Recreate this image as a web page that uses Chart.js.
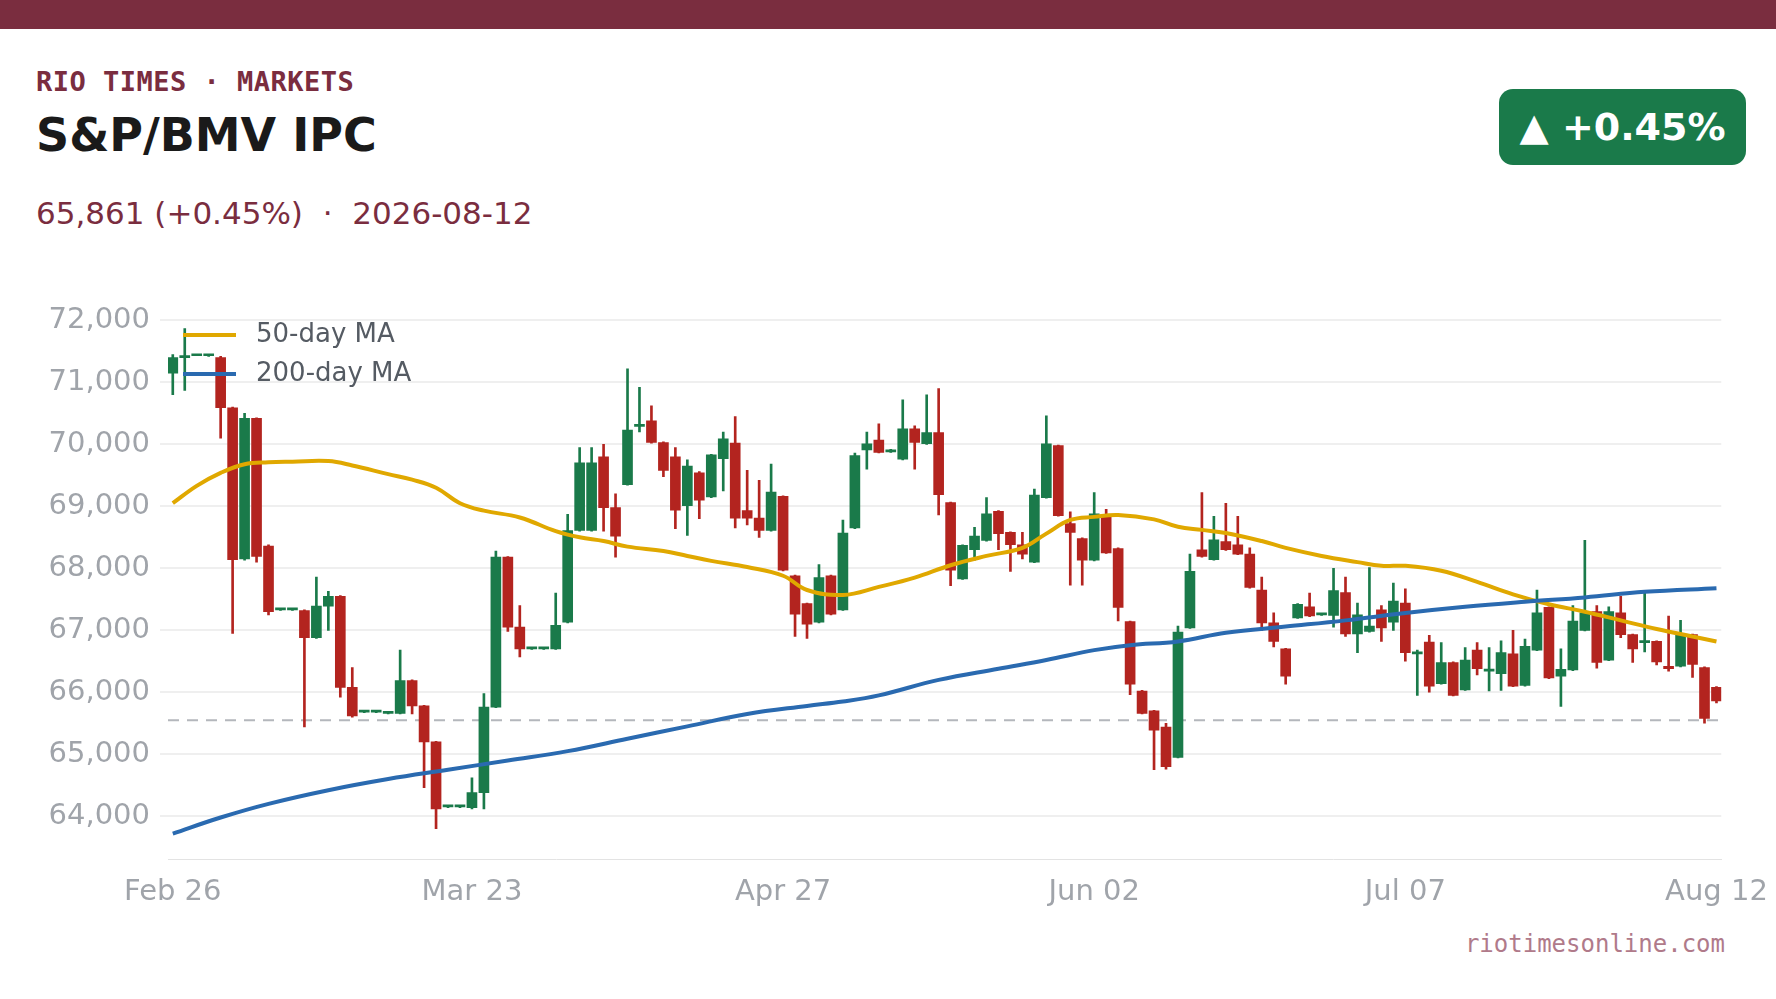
<!DOCTYPE html>
<html><head><meta charset="utf-8">
<script src="https://cdn.jsdelivr.net/npm/chart.js@4.4.1/dist/chart.umd.min.js"></script>
<style>
body{margin:0;width:1776px;height:999px;background:#fff;position:relative;overflow:hidden;font-family:"DejaVu Sans",sans-serif}
#bar{position:absolute;left:0;top:0;width:1776px;height:29px;background:#7a2d3f}
#kicker{position:absolute;left:36px;top:66px;font:bold 27px "DejaVu Sans Mono",monospace;color:#7a2d3f;letter-spacing:0.5px}
#title{position:absolute;left:36px;top:108px;font:bold 46px "DejaVu Sans",sans-serif;color:#1a1a1a}
#sub{position:absolute;left:36px;top:195px;font:31px "DejaVu Sans",sans-serif;color:#7a2d3f;white-space:pre}
#badge{position:absolute;left:1499px;top:89px;width:247px;height:76px;background:#1a7a4a;border-radius:14px;color:#fff;font:bold 38px "DejaVu Sans",sans-serif;display:flex;align-items:center;justify-content:center}
#foot{position:absolute;right:51px;top:930px;font:24px "DejaVu Sans Mono",monospace;color:#b07a8a}
#wrap{position:absolute;left:0;top:293px;width:1776px;height:627px}
.lg{position:absolute;left:183px;font:26px "DejaVu Sans",sans-serif;color:#555b63}
.lg span{display:inline-block;width:53px;height:4px;vertical-align:middle;margin-right:20px}
</style></head><body>
<div id="bar"></div>
<div id="kicker">RIO TIMES · MARKETS</div>
<div id="title">S&amp;P/BMV IPC</div>
<div id="sub">65,861 (+0.45%)  ·  2026-08-12</div>
<div id="badge">▲ +0.45%</div>
<div id="wrap"><canvas id="c" width="1776" height="627"></canvas></div>
<div class="lg" style="top:318px"><span style="background:#e0a800"></span>50-day MA</div>
<div class="lg" style="top:357px"><span style="background:#2a6ab0"></span>200-day MA</div>
<div id="foot">riotimesonline.com</div>
<script>
const tickIdx=[0,25,51,77,103,129];
const tickText=['Feb 26','Mar 23','Apr 27','Jun 02','Jul 07','Aug 12'];
const yTicks=[64000,65000,66000,67000,68000,69000,70000,71000,72000];
const opens=[71150,71400,71430,71430,71400,70590,68150,70420,68360,67330,67330,67320,66880,67390,67550,66080,65680,65680,65660,65660,66190,65780,65200,64150,64150,64140,64380,65760,68180,67050,66700,66700,66700,67130,68610,68610,69800,68980,69350,70290,70380,70030,69800,69010,69540,69150,69770,70020,68930,68810,68610,69160,67880,67430,67130,67880,67330,68650,69910,70070,69880,69760,70250,70010,70190,69060,67830,68300,68450,68920,68580,68380,68100,69140,69980,68720,68480,68130,68830,68320,67140,66020,65700,65440,64950,67040,68300,68140,68430,68380,68230,67650,67120,66700,67200,67380,67250,67240,67610,66940,66980,67330,67130,67440,66620,66810,66140,66480,66040,66680,66340,66300,66620,66110,66680,67370,66260,66360,67000,67300,66520,67280,66930,66800,66820,66420,66420,66930,66400,66080];
const closes=[71400,71400,71440,71430,70590,68140,70420,68190,67300,67330,67330,66880,67390,67550,66080,65620,65680,65680,65660,66190,65780,65200,64120,64150,64150,64380,65760,68180,67050,66700,66700,66700,67080,68610,69700,69700,68980,68520,70230,70290,70030,69580,68940,69650,69100,69830,70090,68810,68810,68610,69230,67970,67260,67100,67850,67260,68570,69820,70010,69870,69910,70250,70030,70190,69190,67970,68370,68520,68880,68560,68380,68230,69180,70010,68850,68580,68130,68880,68250,67370,66130,65660,65390,64800,66970,67950,68190,68460,68300,68230,67690,67120,66820,66260,67420,67230,67250,67640,66940,67250,67070,67040,67470,66640,66620,66100,66480,65950,66520,66380,66340,66640,66100,66740,67280,66230,66370,67150,67280,66480,67300,66930,66700,66800,66490,66380,66920,66450,65580,65860];
const highs=[71450,71870,71440,71440,71420,70600,70500,70430,68380,67340,67340,67330,67860,67630,67560,66400,65690,65690,65670,66680,66200,65790,65210,64160,64160,64620,65980,68280,68190,67400,66710,66710,67600,68870,69950,69950,70000,69200,71220,70920,70620,70040,69950,69750,69560,69840,70200,70450,69580,69420,69680,69170,67890,67440,68060,67890,68780,69860,70200,70330,69920,70720,70300,70800,70900,69070,68380,68660,69140,68930,68590,68580,69280,70460,69990,68910,68490,69220,68950,68330,67150,66030,65710,65500,67070,68230,69220,68840,69050,68840,68330,67860,67280,66710,67430,67600,67260,68000,67860,67440,68010,67400,67760,67670,66680,66920,66800,66490,66720,66800,66720,66830,67000,66860,67650,67380,66700,67400,68450,67400,67380,67550,66940,67620,66830,67230,67160,66940,66410,66090];
const lows=[70800,70870,71430,71420,70100,66950,68130,68100,67250,67320,67320,65440,66870,67000,65920,65600,65670,65670,65650,65650,65650,64460,63800,64140,64140,64120,64120,65750,66980,66570,66690,66690,66690,67120,68600,68600,68600,68180,69340,70200,70020,69480,68640,68530,68800,69140,69250,68650,68700,68500,68600,67960,66900,66870,67120,67250,67320,68640,69600,69860,69870,69750,69600,70000,68860,67720,67820,68130,68440,68300,67950,68150,68090,69130,68840,67730,67730,68120,68240,67150,65960,65650,64750,64760,64940,67030,68180,68130,68290,68220,67680,67000,66730,66130,67190,67220,67240,67050,66900,66640,66970,66820,67000,66500,65950,66000,66130,65940,66030,66280,66020,66030,66090,66100,66670,66220,65770,66350,66990,66390,66510,66880,66480,66650,66440,66340,66410,66240,65500,65830];
const ma50Idx=[0,2,4,6,8,10,13,15,18,20,22,24,26,29,32,34,36,38,41,43,45,48,51,53,56,59,62,65,68,71,73,75,77,79,82,84,86,88,91,93,96,99,101,103,106,109,112,115,118,121,124,127,129];
const ma50=[69050,69330,69540,69680,69710,69720,69730,69660,69520,69430,69300,69050,68930,68820,68600,68500,68440,68350,68280,68200,68120,68020,67880,67650,67570,67700,67850,68050,68200,68330,68560,68780,68830,68860,68790,68670,68620,68570,68440,68330,68200,68100,68040,68040,67960,67780,67580,67420,67300,67160,67020,66900,66820];
const ma200Idx=[0,4,8,13,18,23,28,33,38,43,48,53,56,59,64,69,73,77,80,84,88,93,98,103,108,113,118,123,129];
const ma200=[63720,63980,64200,64420,64600,64750,64900,65050,65250,65450,65650,65780,65850,65950,66200,66380,66520,66680,66760,66820,66960,67060,67160,67280,67380,67460,67530,67620,67680];
const refLevel=65550;

const G='#1a7a4a',R='#b3241f';
const col=opens.map((o,i)=>closes[i]>=o?G:R);
const wick=highs.map((h,i)=>({x:i,y:[lows[i],h]}));
const body=opens.map((o,i)=>({x:i,y:[o,closes[i]]}));
new Chart(document.getElementById('c'),{
 data:{datasets:[
  {type:'line',label:'ref',data:[{x:-0.4,y:refLevel},{x:129.4,y:refLevel}],borderColor:'#b4b7bc',borderWidth:2,borderDash:[11,8],pointRadius:0,order:5},
  {type:'bar',label:'w',data:wick,backgroundColor:col,barThickness:2,grouped:false,order:3},
  {type:'bar',label:'b',data:body,backgroundColor:col,barThickness:10,grouped:false,minBarLength:2,order:2},
  {type:'line',label:'50',data:ma50Idx.map((x,i)=>({x,y:ma50[i]})),borderColor:'#e0a800',borderWidth:4,pointRadius:0,tension:0.4,order:1},
  {type:'line',label:'200',data:ma200Idx.map((x,i)=>({x,y:ma200[i]})),borderColor:'#2a6ab0',borderWidth:4,pointRadius:0,tension:0.4,order:0}
 ]},
 options:{responsive:false,animation:false,
  layout:{padding:{top:4,right:52,left:0,bottom:0}},
  plugins:{legend:{display:false},tooltip:{enabled:false}},
  scales:{
   x:{type:'linear',offset:false,bounds:'data',min:-0.4,max:129.4,grid:{display:false,offset:false},border:{color:'#e3e3e3'},
      afterDataLimits:a=>{a.min=-0.4;a.max=129.4;},
      afterBuildTicks:a=>{a.ticks=tickIdx.map(v=>({value:v}));},
      afterFit:a=>{a.height=61;},
      ticks:{autoSkip:false,maxRotation:0,color:'#a0a4aa',font:{size:29,family:'DejaVu Sans'},padding:8,callback:v=>tickText[tickIdx.indexOf(v)]}},
   y:{type:'linear',min:63310,max:72000,grid:{color:'#efefef',lineWidth:2},border:{display:false},
      afterBuildTicks:a=>{a.ticks=yTicks.map(v=>({value:v}));},
      afterFit:a=>{a.width=168;},
      ticks:{color:'#a0a4aa',font:{size:29,family:'DejaVu Sans'},padding:10,callback:v=>v.toLocaleString('en-US')}}
  }}
});
</script></body></html>
